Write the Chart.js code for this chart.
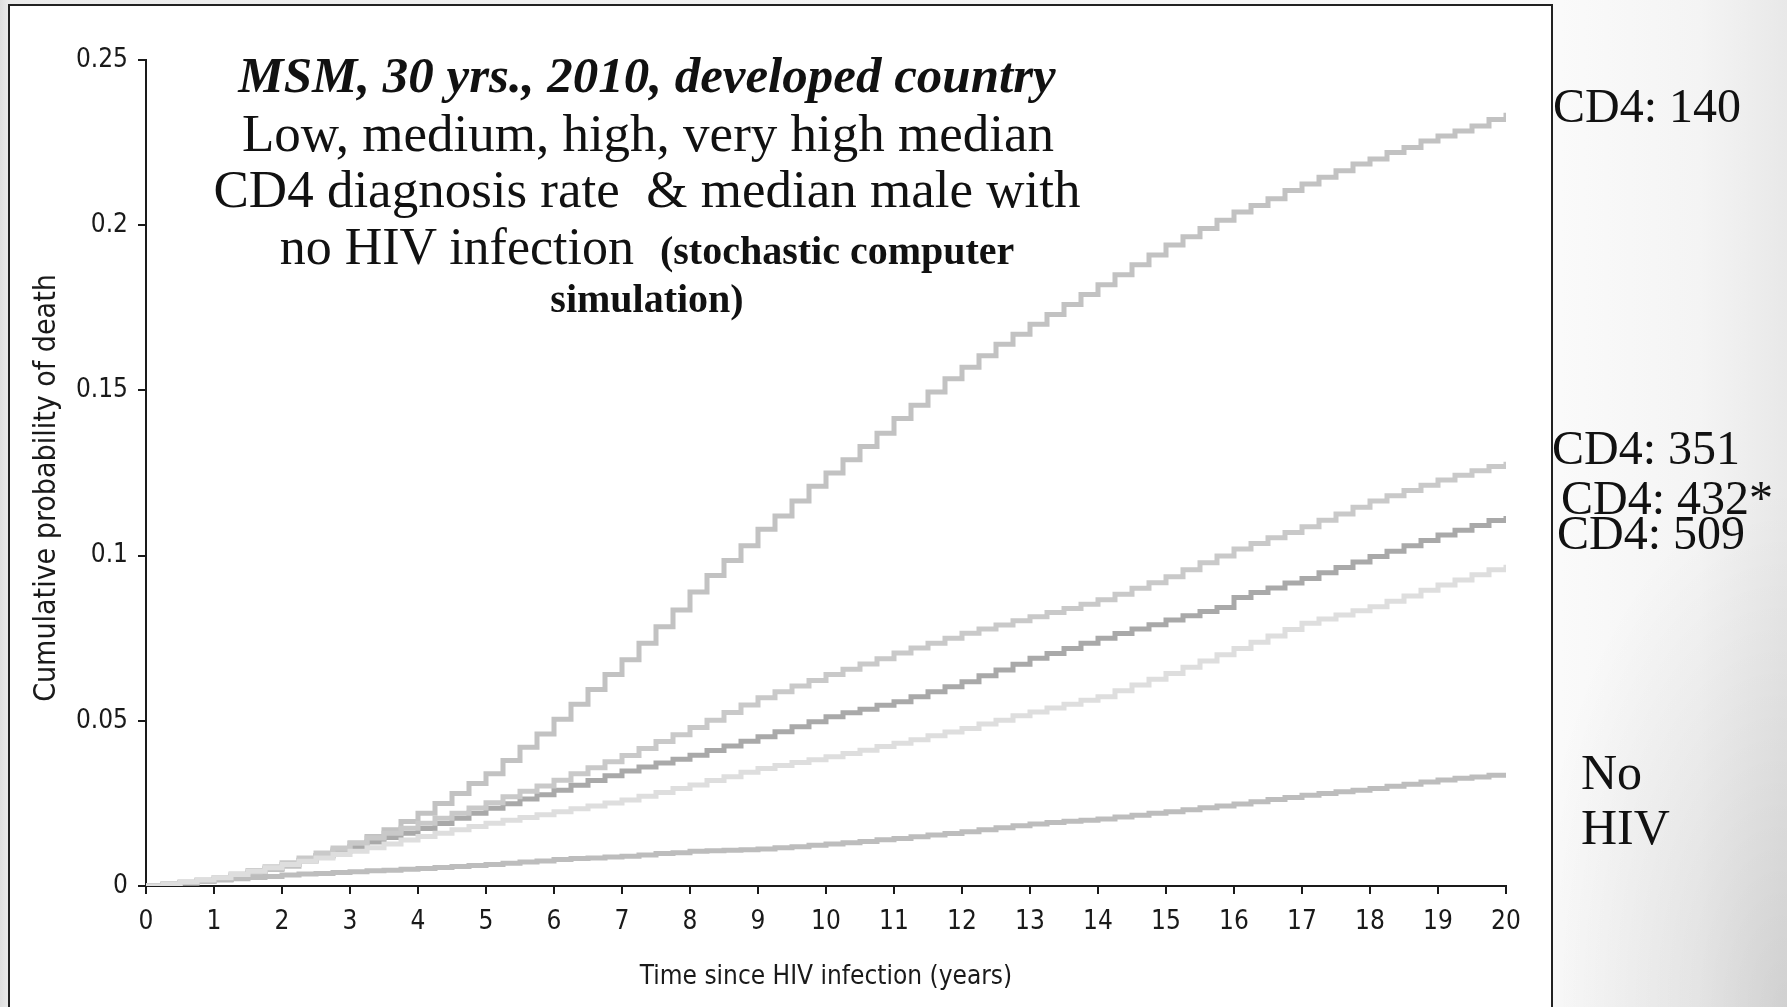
<!DOCTYPE html>
<html>
<head>
<meta charset="utf-8">
<script src="https://cdn.jsdelivr.net/npm/chart.js@4.4.1/dist/chart.umd.min.js"></script>
<style>
  html, body { margin: 0; padding: 0; }
  body {
    width: 1787px; height: 1007px; overflow: hidden; position: relative;
    background:
      radial-gradient(ellipse 260px 520px at 1787px 1007px, rgba(0,0,0,0.10), rgba(0,0,0,0) 100%),
      linear-gradient(90deg, #dedede 0px, #ebebeb 9px, #fafafa 1560px, #f4f4f4 1700px, #e8e8e8 1787px);
  }
  #frame {
    position: absolute; left: 8px; top: 4px; width: 1545px; height: 1020px;
    box-sizing: border-box; background: #fff; border: 2px solid #222;
  }
  #wrap { position: absolute; left: 0; top: 0; width: 1787px; height: 1007px; }
  .note, .tag {
    position: absolute; font-family: "Liberation Serif", "Times New Roman", serif;
    color: #111; line-height: 1; white-space: pre;
  }
  .note { transform: translateX(-50%); }
  .small { font-weight: bold; }
</style>
</head>
<body>
<div id="frame"></div>
<div id="wrap"><canvas id="c" width="1787" height="1007"></canvas></div>

<div class="note" style="left:647px; top:50px; font-size:51px; font-weight:bold; font-style:italic;">MSM, 30 yrs., 2010, developed country</div>
<div class="note" style="left:648px; top:107px; font-size:53px;">Low, medium, high, very high median</div>
<div class="note" style="left:647px; top:163px; font-size:53px;">CD4 diagnosis rate  &amp; median male with</div>
<div class="note" style="left:647px; top:221px; font-size:52px;">no HIV infection  <span class="small" style="font-size:40px;">(stochastic computer</span></div>
<div class="note" style="left:647px; top:279px; font-size:40px; font-weight:bold;">simulation)</div>

<div class="tag" style="left:1553px; top:82px; font-size:48px;">CD4: 140</div>
<div class="tag" style="left:1552px; top:424px; font-size:48px;">CD4: 351</div>
<div class="tag" style="left:1561px; top:474px; font-size:48px;">CD4: 432*</div>
<div class="tag" style="left:1557px; top:509px; font-size:48px;">CD4: 509</div>
<div class="tag" style="left:1581px; top:747px; font-size:50px;">No</div>
<div class="tag" style="left:1581px; top:802px; font-size:50px;">HIV</div>

<script>
// Time since infection (years), quarterly steps
const timeYears = [
  0, 0.25, 0.5, 0.75, 1, 1.25, 1.5, 1.75, 2, 2.25, 2.5, 2.75, 3, 3.25, 3.5, 3.75,
  4, 4.25, 4.5, 4.75, 5, 5.25, 5.5, 5.75, 6, 6.25, 6.5, 6.75, 7, 7.25, 7.5, 7.75,
  8, 8.25, 8.5, 8.75, 9, 9.25, 9.5, 9.75, 10, 10.25, 10.5, 10.75, 11, 11.25, 11.5, 11.75,
  12, 12.25, 12.5, 12.75, 13, 13.25, 13.5, 13.75, 14, 14.25, 14.5, 14.75, 15, 15.25, 15.5, 15.75,
  16, 16.25, 16.5, 16.75, 17, 17.25, 17.5, 17.75, 18, 18.25, 18.5, 18.75, 19, 19.25, 19.5, 19.75, 20
];

// Cumulative probability of death, median CD4 at diagnosis = 140
const cd4_140 = [
  0, 0.0005, 0.001, 0.0015, 0.002, 0.003, 0.004, 0.005, 0.006, 0.0075, 0.009, 0.011, 0.013, 0.015, 0.017, 0.0195,
  0.022, 0.025, 0.028, 0.031, 0.034, 0.038, 0.042, 0.046, 0.0505, 0.055, 0.0595, 0.064, 0.0685, 0.0735, 0.0785, 0.0835,
  0.089, 0.094, 0.0985, 0.103, 0.108, 0.112, 0.1165, 0.121, 0.125, 0.129, 0.133, 0.137, 0.1415, 0.1455, 0.1495, 0.1535,
  0.157, 0.1605, 0.164, 0.167, 0.170, 0.173, 0.176, 0.179, 0.182, 0.185, 0.188, 0.191, 0.194, 0.1965, 0.199, 0.2015,
  0.204, 0.206, 0.208, 0.2105, 0.2125, 0.2145, 0.2165, 0.2185, 0.220, 0.222, 0.2235, 0.2255, 0.227, 0.2285, 0.230, 0.232, 0.234
];

// Median CD4 at diagnosis = 351
const cd4_351 = [
  0, 0.0006, 0.0012, 0.0018, 0.0025, 0.0036, 0.0047, 0.0058, 0.007, 0.0085, 0.010, 0.0115, 0.013, 0.0145, 0.016, 0.0175,
  0.019, 0.0205, 0.022, 0.0236, 0.0252, 0.027, 0.0287, 0.0303, 0.032, 0.034, 0.0358, 0.0376, 0.0395, 0.0416, 0.0437, 0.0458,
  0.048, 0.0502, 0.0525, 0.0548, 0.057, 0.0588, 0.0605, 0.0622, 0.064, 0.0656, 0.0672, 0.0688, 0.0705, 0.072, 0.0735, 0.075,
  0.0765, 0.0778, 0.079, 0.0803, 0.0815, 0.0828, 0.084, 0.0853, 0.0866, 0.0883, 0.0901, 0.0918, 0.0936, 0.0957, 0.0978, 0.0999,
  0.102, 0.1037, 0.1054, 0.107, 0.1087, 0.1107, 0.1126, 0.1146, 0.1165, 0.1181, 0.1197, 0.1213, 0.1229, 0.1243, 0.1257, 0.127, 0.1284
];

// Median CD4 at diagnosis = 432
const cd4_432 = [
  0, 0.0005, 0.001, 0.0015, 0.002, 0.003, 0.0042, 0.0053, 0.0065, 0.0078, 0.0092, 0.0105, 0.0119, 0.0133, 0.0147, 0.016,
  0.0174, 0.0189, 0.0205, 0.022, 0.0235, 0.0249, 0.0263, 0.0276, 0.029, 0.0305, 0.0319, 0.0334, 0.0348, 0.036, 0.0372, 0.0384,
  0.0396, 0.041, 0.0424, 0.0438, 0.0452, 0.0467, 0.0482, 0.0497, 0.0512, 0.0524, 0.0535, 0.0547, 0.0558, 0.0573, 0.0588, 0.0603,
  0.0618, 0.0636, 0.0654, 0.0671, 0.0689, 0.0704, 0.0719, 0.0735, 0.075, 0.0764, 0.0778, 0.0791, 0.0805, 0.0818, 0.0831, 0.0843,
  0.0873, 0.0888, 0.0902, 0.0917, 0.0931, 0.0948, 0.0964, 0.0981, 0.0997, 0.1013, 0.103, 0.1046, 0.1062, 0.1077, 0.1091, 0.1106, 0.112
];

// Median CD4 at diagnosis = 509
const cd4_509 = [
  0, 0.0006, 0.0012, 0.0018, 0.0025, 0.0035, 0.0045, 0.0055, 0.0065, 0.0075, 0.0085, 0.0095, 0.0105, 0.0116, 0.0127, 0.0139,
  0.015, 0.016, 0.017, 0.018, 0.019, 0.0199, 0.0207, 0.0216, 0.0225, 0.0234, 0.0242, 0.0251, 0.026, 0.0272, 0.0283, 0.0295,
  0.0306, 0.0319, 0.0331, 0.0344, 0.0356, 0.0365, 0.0374, 0.0382, 0.0391, 0.0401, 0.0411, 0.0422, 0.0432, 0.0443, 0.0455, 0.0466,
  0.0477, 0.049, 0.0502, 0.0515, 0.0527, 0.0539, 0.055, 0.0562, 0.0573, 0.0591, 0.0608, 0.0626, 0.0643, 0.0662, 0.0681, 0.070,
  0.0719, 0.0738, 0.0757, 0.0776, 0.0795, 0.0808, 0.082, 0.0833, 0.0845, 0.0862, 0.0878, 0.0895, 0.0911, 0.0926, 0.0942, 0.0957, 0.0972
];

// Median male without HIV infection
const noHiv = [
  0, 0.0005, 0.0009, 0.0014, 0.0018, 0.0022, 0.0026, 0.0029, 0.0033, 0.0036, 0.0038, 0.0041, 0.0043, 0.0046, 0.0048, 0.0051,
  0.0053, 0.0056, 0.0059, 0.0062, 0.0065, 0.0069, 0.0073, 0.0076, 0.008, 0.0083, 0.0085, 0.0088, 0.009, 0.0094, 0.0098, 0.0101,
  0.0105, 0.0107, 0.0108, 0.011, 0.0112, 0.0116, 0.0119, 0.0123, 0.0127, 0.0131, 0.0135, 0.014, 0.0144, 0.0149, 0.0154, 0.0159,
  0.0164, 0.017, 0.0176, 0.0182, 0.0188, 0.0192, 0.0196, 0.0199, 0.0203, 0.0209, 0.0214, 0.022, 0.0225, 0.0231, 0.0237, 0.0242,
  0.0248, 0.0255, 0.0262, 0.0268, 0.0275, 0.028, 0.0285, 0.029, 0.0295, 0.0302, 0.0308, 0.0315, 0.0321, 0.0326, 0.033, 0.0335, 0.034
];

const xTicks = [0, 1, 2, 3, 4, 5, 6, 7, 8, 9, 10, 11, 12, 13, 14, 15, 16, 17, 18, 19, 20];
const yTicks = [0, 0.05, 0.1, 0.15, 0.2, 0.25];
const yTickLabels = ['0', '0.05', '0.1', '0.15', '0.2', '0.25'];
const xTitle = 'Time since HIV infection (years)';
const yTitle = 'Cumulative probability of death';

const series = [
  { name: 'CD4: 509', values: cd4_509, color: '#dedede' },
  { name: 'No HIV', values: noHiv, color: '#bdbdbd' },
  { name: 'CD4: 351', values: cd4_351, color: '#c9c9c9' },
  { name: 'CD4: 140', values: cd4_140, color: '#c2c2c2' },
  { name: 'CD4: 432*', values: cd4_432, color: '#a9a9a9' }
];

const sansFamily = "'Liberation Sans Narrow', 'DejaVu Sans Condensed', 'Arial Narrow', sans-serif";
const tickFont = { family: sansFamily, size: 26 };
const titleFont = { family: sansFamily, size: 26 };
const ink = '#1a1a1a';

// Vertical axis title, drawn beside the y scale
const yTitlePlugin = {
  id: 'yTitle',
  afterDraw(chart) {
    const ctx = chart.ctx;
    ctx.save();
    ctx.translate(47, 488);
    ctx.rotate(-Math.PI / 2);
    ctx.font = `30px ${sansFamily}`;
    ctx.fillStyle = ink;
    ctx.textAlign = 'center';
    ctx.textBaseline = 'middle';
    ctx.fillText(yTitle, 0, 0);
    ctx.restore();
  }
};

new Chart(document.getElementById('c'), {
  type: 'line',
  data: {
    datasets: series.map(s => ({
      label: s.name,
      data: timeYears.map((t, i) => ({ x: t, y: s.values[i] })),
      borderColor: s.color,
      borderWidth: 5,
      stepped: true,
      pointRadius: 0,
      fill: false
    }))
  },
  options: {
    responsive: false,
    animation: false,
    devicePixelRatio: 1,
    layout: { padding: { left: 0, top: 60, right: 281, bottom: 0 } },
    plugins: { legend: { display: false }, tooltip: { enabled: false } },
    scales: {
      x: {
        type: 'linear', min: 0, max: 20,
        afterBuildTicks: sc => { sc.ticks = xTicks.map(v => ({ value: v })); },
        afterFit: sc => { sc.height = 121; },
        ticks: { font: tickFont, color: ink, padding: 13, maxRotation: 0, autoSkip: false },
        grid: { drawOnChartArea: false, drawTicks: true, tickLength: 8, color: ink, lineWidth: 2 },
        border: { display: true, color: ink, width: 2 },
        title: { display: true, text: xTitle, font: titleFont, color: ink, padding: { top: 0, bottom: 14 } }
      },
      y: {
        type: 'linear', min: 0, max: 0.25,
        afterBuildTicks: sc => { sc.ticks = yTicks.map(v => ({ value: v })); },
        afterFit: sc => { sc.width = 146; },
        ticks: {
          font: tickFont, color: ink, padding: 10,
          callback: (v) => yTickLabels[yTicks.indexOf(v)] ?? ''
        },
        grid: { drawOnChartArea: false, drawTicks: true, tickLength: 8, color: ink, lineWidth: 2 },
        border: { display: true, color: ink, width: 2 },
        title: { display: false }
      }
    }
  },
  plugins: [yTitlePlugin]
});
</script>
</body>
</html>
